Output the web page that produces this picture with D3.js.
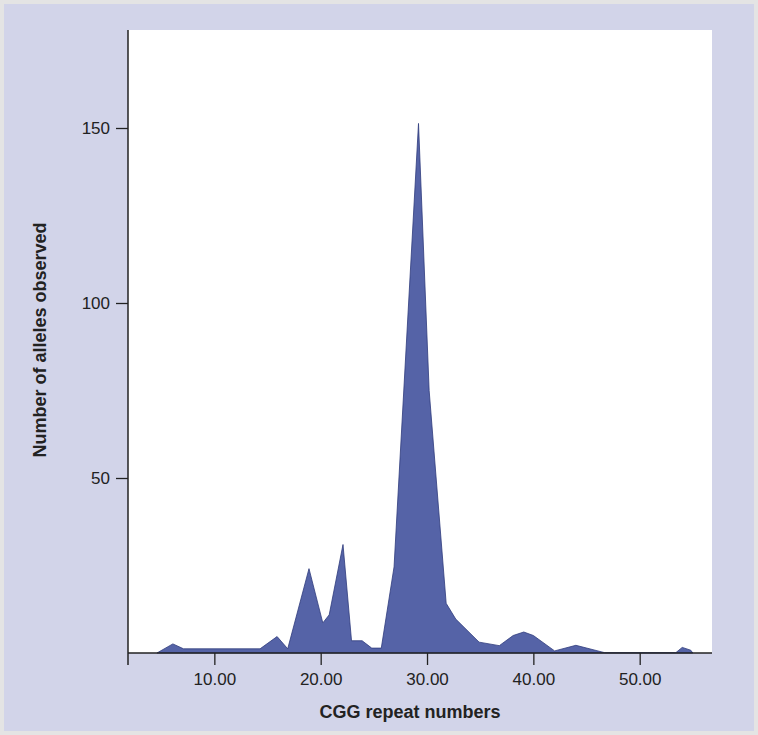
<!DOCTYPE html>
<html><head><meta charset="utf-8">
<script src="https://cdn.jsdelivr.net/npm/d3@7"></script>
<style>body{margin:0;background:#e4e4e4}svg{display:block}</style>
</head><body><svg id="chart" width="758" height="735"></svg>
<script>
// CGG repeat number vs. allele count
const repeats = [4.6, 6.1, 7.1, 14.3, 15.9, 16.9, 18.9, 20.2, 20.8, 22.1, 22.9, 23.9, 24.8, 25.7, 26.9, 29.2, 30.2, 31.8, 32.7, 34.9, 36.8, 38.1, 39.1, 40.0, 42.0, 44.0, 46.7, 50.7, 53.4, 54.0, 54.8, 55.0];
const alleles = [0, 2.6, 1.2, 1.2, 4.7, 1.2, 24.1, 8.6, 10.9, 31, 3.5, 3.5, 1.4, 1.4, 24.6, 151.3, 75, 14.2, 9.7, 3.1, 2.1, 5.0, 6.0, 5.0, 0.6, 2.2, 0.1, 0.1, 0.1, 1.6, 0.8, 0];
const xTicks = [10, 20, 30, 40, 50];
const yTicks = [50, 100, 150];

const data = repeats.map((r, i) => ({ x: r, y: alleles[i] }));
const svg = d3.select("#chart");

svg.append("rect").attr("x", 4).attr("y", 4).attr("width", 750).attr("height", 727).attr("fill", "#d2d4e9");

const plotL = 128, plotR = 712, plotT = 30, plotB = 653;
svg.append("rect").attr("x", plotL).attr("y", plotT).attr("width", plotR - plotL).attr("height", plotB - plotT).attr("fill", "#fff");

const x = d3.scaleLinear().domain([1.88, 56.8]).range([plotL, plotR]);
const y = d3.scaleLinear().domain([0, 178]).range([plotB, plotT]);

const area = d3.area().x(d => x(d.x)).y0(y(0)).y1(d => y(d.y));
svg.append("path").datum(data).attr("d", area)
    .attr("fill", "#5563a7").attr("stroke", "#2f3b7c").attr("stroke-width", 0.8);

const font = "Helvetica, Arial, 'Liberation Sans', sans-serif";

const xAxis = svg.append("g").attr("transform", `translate(0,${plotB})`)
    .call(d3.axisBottom(x).tickValues(xTicks).tickFormat(d3.format(".2f")).tickSize(12).tickPadding(8));
const yAxis = svg.append("g").attr("transform", `translate(${plotL},0)`)
    .call(d3.axisLeft(y).tickValues(yTicks).tickSize(12).tickPadding(6));

[xAxis, yAxis].forEach(g => {
    g.select(".domain").attr("stroke", "#222").attr("stroke-width", 1.5);
    g.selectAll(".tick line").attr("stroke", "#222").attr("stroke-width", 1.3);
    g.selectAll("text").attr("font-family", font).attr("font-size", 17).attr("fill", "#222");
});
// extend the domain lines to the frame edges
yAxis.select(".domain").attr("d", `M0,${plotT}V${plotB}`);
xAxis.select(".domain").attr("d", `M${plotL},0H${plotR}`);
xAxis.append("line").attr("x1", plotL).attr("x2", plotL).attr("y1", 0).attr("y2", 12).attr("stroke", "#222").attr("stroke-width", 1.5);

svg.append("text").attr("x", (plotL + plotR) / 2 - 10).attr("y", 718).attr("text-anchor", "middle")
    .attr("font-family", font).attr("font-weight", "bold").attr("font-size", 18).attr("fill", "#222")
    .text("CGG repeat numbers");
svg.append("text").attr("transform", "translate(46,340) rotate(-90)").attr("text-anchor", "middle")
    .attr("font-family", font).attr("font-weight", "bold").attr("font-size", 18).attr("fill", "#222")
    .text("Number of alleles observed");
</script></body></html>
